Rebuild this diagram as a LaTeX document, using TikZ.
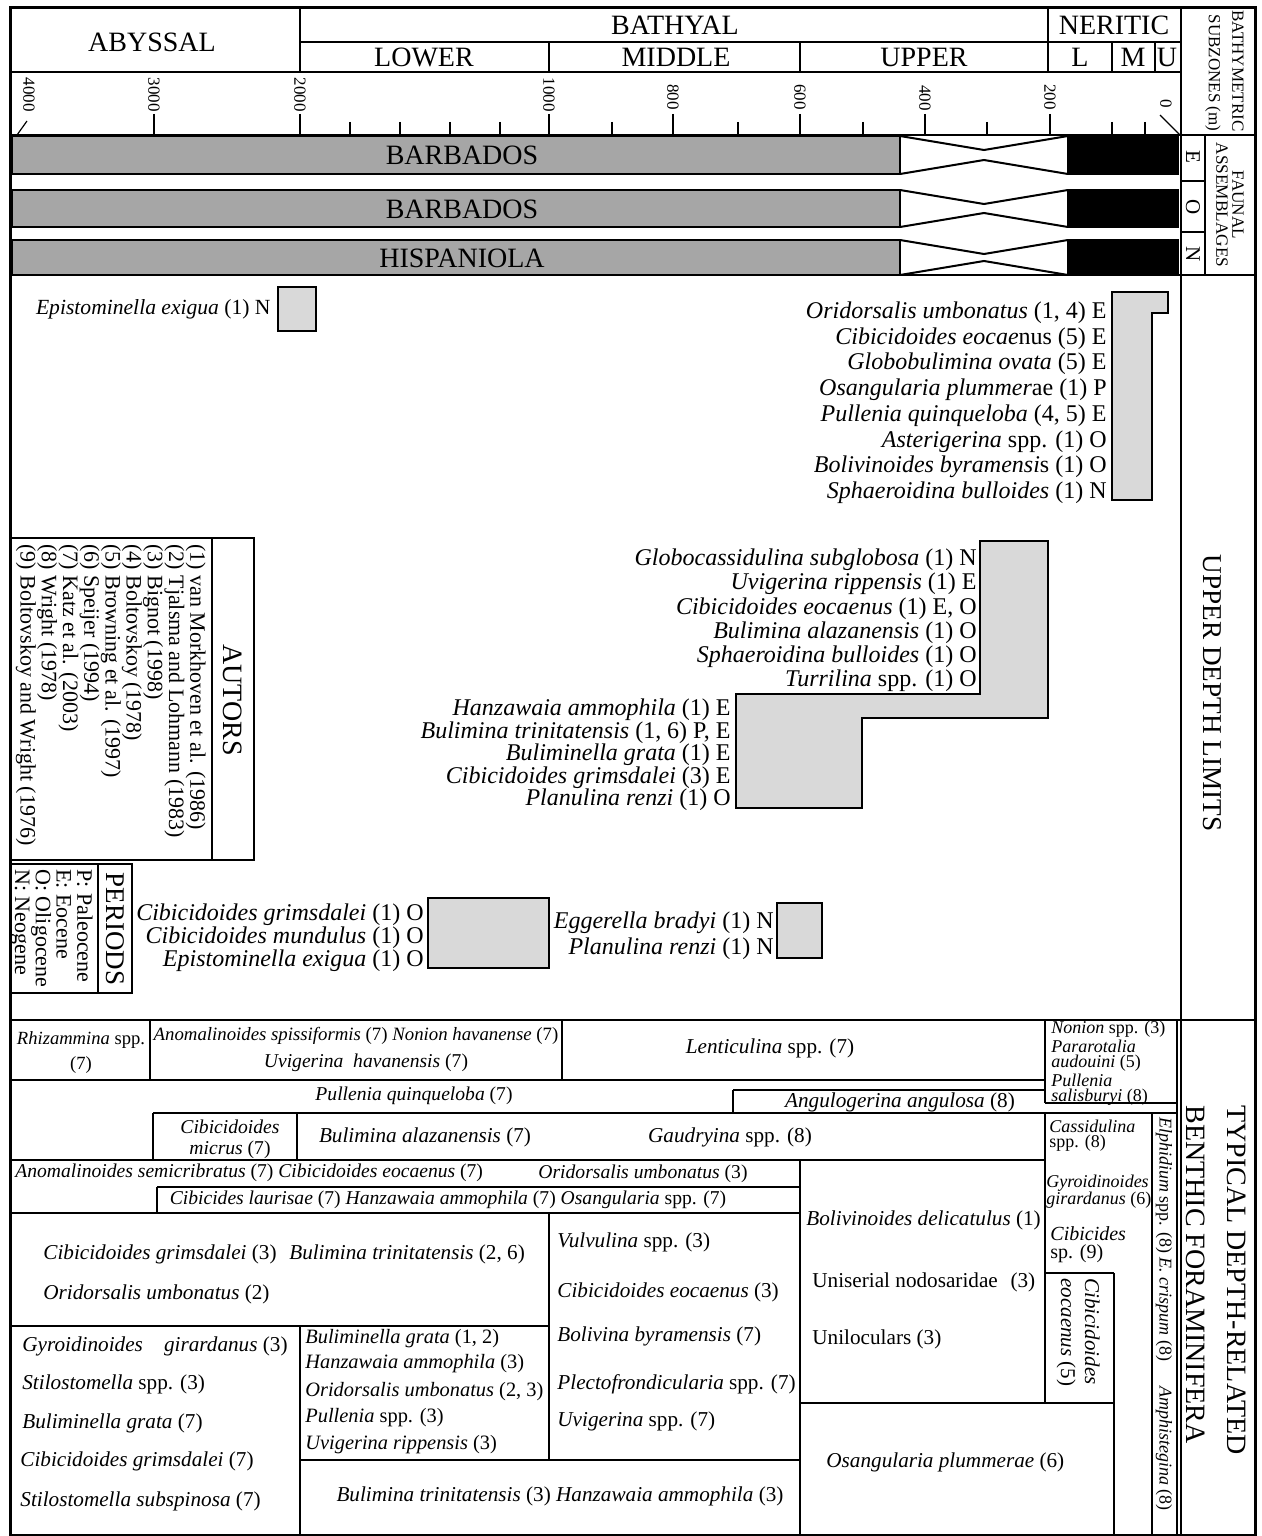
\documentclass[tikz,border=0pt]{standalone}
\usepackage{fontspec}
\setmainfont{Liberation Serif}
\tikzset{
  hd/.style={font=\fontsize{14}{14}\selectfont, inner sep=0pt},
  lbl/.style={font=\fontsize{12}{12.85}\selectfont, inner sep=0pt},
  tbs/.style={font=\fontsize{9.8}{11}\selectfont, inner sep=0pt},
  tb/.style={font=\fontsize{10.6}{12}\selectfont, inner sep=0pt},
  tbn/.style={font=\fontsize{10.2}{12}\selectfont, inner sep=0pt},
  scalelbl/.style={font=\fontsize{8.5}{8.5}\selectfont, inner sep=0pt, rotate=-90, anchor=east},
  rot/.style={rotate=-90, inner sep=0pt},
  limbox/.style={draw, line width=1pt, fill=black!15},
  barbox/.style={draw, line width=1pt, fill=black!35},
  gridline/.style={line width=0.6pt},
}
\begin{document}
\begin{tikzpicture}[x=0.5pt, y=-0.5pt]
\useasboundingbox (0,0) rectangle (1262,1536);

% Outer frame and right column
\draw[line width=1.5pt] (10,8) rectangle (1255,1535);
\draw[line width=1pt] (1181,8) -- (1181,1535);

% Header: bathymetric zones
\draw[gridline] (300,8) -- (300,72) (1048,8) -- (1048,72)
  (300,42) -- (1181,42) (10,72) -- (1181,72)
  (549,42) -- (549,72) (800,42) -- (800,72)
  (1112,42) -- (1112,72) (1155,42) -- (1155,72);
\node[hd] (abyssal) at (152,42) {ABYSSAL};
\node[hd] (bathyal) at (675,25) {BATHYAL};
\node[hd] (neritic) at (1114,25) {NERITIC};
\node[hd] (lower) at (424,57) {LOWER};
\node[hd] (middle) at (676,57) {MIDDLE};
\node[hd] (upper) at (924,57) {UPPER};
\node[hd] (nerl) at (1080,57) {L};
\node[hd] (nerm) at (1133,57) {M};
\node[hd] (neru) at (1167,57) {U};

% Depth scale (m)
\draw[gridline] (10,135) -- (1255,135);
\draw[gridline] (154,114) -- (154,135) (300,114) -- (300,135) (549,114) -- (549,135)
  (673,114) -- (673,135) (800,114) -- (800,135) (925,114) -- (925,135) (1050,114) -- (1050,135);
\draw[gridline] (350,122) -- (350,135) (400,122) -- (400,135) (450,122) -- (450,135)
  (500,122) -- (500,135) (612,122) -- (612,135) (738,122) -- (738,135)
  (863,122) -- (863,135) (987,122) -- (987,135) (1112,122) -- (1112,135) (1145,122) -- (1145,135);
\draw[gridline] (17,135) -- (27,121) (1160,115) -- (1180,135);
\node[scalelbl] (d4000) at (29,112) {4000};
\node[scalelbl] (d3000) at (154,112) {3000};
\node[scalelbl] (d2000) at (300,112) {2000};
\node[scalelbl] (d1000) at (549,112) {1000};
\node[scalelbl] (d800) at (673,110) {800};
\node[scalelbl] (d600) at (800,110) {600};
\node[scalelbl] (d400) at (925,111) {400};
\node[scalelbl] (d200) at (1050,110) {200};
\node[scalelbl] (d0) at (1166,108) {0};

% Faunal assemblage bars
\draw[barbox] (12,136) rectangle (900,174);
\draw[barbox] (12,190) rectangle (900,227);
\draw[barbox] (12,240) rectangle (900,275);
\draw[line width=1pt, fill=black] (1068,136) rectangle (1178,174);
\draw[line width=1pt, fill=black] (1068,190) rectangle (1178,227);
\draw[line width=1pt, fill=black] (1068,240) rectangle (1178,275);
\draw[line width=1pt] (900,136) -- (984,150) -- (1068,136) (900,174) -- (984,160) -- (1068,174);
\draw[line width=1pt] (900,190) -- (984,204) -- (1068,190) (900,227) -- (984,213) -- (1068,227);
\draw[line width=1pt] (900,240) -- (984,254) -- (1068,240) (900,275) -- (984,261) -- (1068,275);
\node[hd] (barE) at (462,155) {BARBADOS};
\node[hd] (barO) at (462,209) {BARBADOS};
\node[hd] (barN) at (462,258) {HISPANIOLA};
\draw[gridline] (10,275) -- (1255,275);

% Right column labels
\draw[gridline] (1205,135) -- (1205,275) (1181,181) -- (1205,181) (1181,232) -- (1205,232);
\node[rot, font=\fontsize{8.5}{8.5}\selectfont] (bathym) at (1238,71) {BATHYMETRIC};
\node[rot, font=\fontsize{8.5}{8.5}\selectfont] (subz) at (1213,73) {SUBZONES (m)};
\node[rot, align=center, font=\fontsize{8.6}{8}\selectfont] (faunal) at (1230,205) {FAUNAL\\ASSEMBLAGES};
\node[rot, font=\fontsize{10.5}{10.5}\selectfont] (asE) at (1193,157) {E};
\node[rot, font=\fontsize{10.5}{10.5}\selectfont] (asO) at (1193,207) {O};
\node[rot, font=\fontsize{10.5}{10.5}\selectfont] (asN) at (1193,254) {N};
\node[rot, font=\fontsize{13.6}{13.6}\selectfont] (udl) at (1212,693) {UPPER DEPTH LIMITS};
\node[rot, anchor=west, font=\fontsize{14}{14}\selectfont] (typ1) at (1237,1105) {TYPICAL DEPTH-RELATED};
\node[rot, anchor=west, font=\fontsize{14}{14}\selectfont] (typ2) at (1196,1105) {BENTHIC FORAMINIFERA};

% Upper depth limits
\draw[limbox] (278,287) rectangle (316,331);
\node[lbl, anchor=east, font=\fontsize{10.8}{11}\selectfont] (epex) at (271,309) {\textit{Epistominella exigua} (1) N};

\draw[limbox] (1112,292) -- (1168,292) -- (1168,313) -- (1152,313) -- (1152,500) -- (1112,500) -- cycle;
\node[lbl, anchor=north east, align=right] (shelf) at (1107,301.5) {\textit{Oridorsalis umbonatus} (1, 4) E\\
  \textit{Cibicidoides eocae}nus (5) E\\ \textit{Globobulimina ovata} (5) E\\
  \textit{Osangularia plummer}ae (1) P\\ \textit{Pullenia quinqueloba} (4, 5) E\\
  \textit{Asterigerina} spp. (1) O\\ \textit{Bolivinoides byramensi}s (1) O\\
  \textit{Sphaeroidina bulloides} (1) N};

\draw[limbox] (980,541) -- (1048,541) -- (1048,718) -- (862,718) -- (862,808) -- (736,808) -- (736,694) -- (980,694) -- cycle;
\node[lbl, anchor=north east, align=right, font=\fontsize{12}{12.1}\selectfont] (upbath) at (977,548.6) {\textit{Globocassidulina subglobosa} (1) N\\
  \textit{Uvigerina rippensis} (1) E\\ \textit{Cibicidoides eocaenus} (1) E, O\\
  \textit{Bulimina alazanensis} (1) O\\ \textit{Sphaeroidina bulloides} (1) O\\
  \textit{Turrilina} spp. (1) O};
\node[lbl, anchor=north east, align=right, font=\fontsize{12}{11.25}\selectfont] (midbath) at (731,698.6) {\textit{Hanzawaia ammophila} (1) E\\
  \textit{Bulimina trinitatensis} (1, 6) P, E\\ \textit{Buliminella grata} (1) E\\
  \textit{Cibicidoides grimsdalei} (3) E\\ \textit{Planulina renzi} (1) O};

\draw[limbox] (428,898) rectangle (549,968);
\node[lbl, anchor=north east, align=right, font=\fontsize{12}{11.5}\selectfont] (lowbath) at (424,903.6) {\textit{Cibicidoides grimsdalei} (1) O\\
  \textit{Cibicidoides mundulus} (1) O\\ \textit{Epistominella exigua} (1) O};
\draw[limbox] (777,903) rectangle (822,958);
\node[lbl, anchor=north east, align=right, font=\fontsize{12}{13}\selectfont] (eggr) at (774,911.6) {\textit{Eggerella bradyi} (1) N\\
  \textit{Planulina renzi} (1) N};

% Autors and periods
\draw[line width=1.2pt] (10,538) rectangle (254,860);
\draw[line width=1.2pt] (212,538) -- (212,860);
\node[rot, font=\fontsize{14}{14}\selectfont] (autors) at (233,700) {AUTORS};
\node[rot, anchor=north west, align=left, font=\fontsize{11}{10.6}\selectfont] (autlist) at (206,544) {(1) van Morkhoven et al. (1986)\\
  (2) Tjalsma and Lohmann (1983)\\ (3) Bignot (1998)\\ (4) Boltovskoy (1978)\\
  (5) Browning et al. (1997)\\ (6) Speijer (1994)\\ (7) Katz et al. (2003)\\
  (8) Wright (1978)\\ (9) Boltovskoy and Wright (1976)};
\draw[line width=1.2pt] (10,864) rectangle (132,993);
\draw[line width=1.2pt] (98,864) -- (98,993);
\node[rot, font=\fontsize{13.5}{13.5}\selectfont] (periods) at (115,929) {PERIODS};
\node[rot, anchor=north west, align=left, font=\fontsize{11}{10.35}\selectfont] (perlist) at (93,869) {P: Paleocene\\
  E: Eocene\\ O: Oligocene\\ N: Neogene};

% Typical depth-related benthic foraminifera (table)
\draw[gridline] (10,1020) -- (1255,1020);
\draw[gridline] (150,1020) -- (150,1080) (562,1020) -- (562,1080)
  (1045,1020) -- (1045,1103) (1045,1103) -- (1177,1103)
  (10,1080) -- (1045,1080) (733,1090) -- (1045,1090) (733,1090) -- (733,1113)
  (153,1113) -- (1177,1113) (153,1113) -- (153,1160) (297,1113) -- (297,1160)
  (1045,1113) -- (1045,1403)
  (10,1160) -- (1045,1160) (157,1187) -- (800,1187) (157,1187) -- (157,1213)
  (10,1213) -- (800,1213) (800,1160) -- (800,1535) (549,1213) -- (549,1460)
  (10,1326) -- (549,1326) (300,1326) -- (300,1535) (300,1460) -- (800,1460)
  (800,1403) -- (1114,1403) (1045,1273) -- (1114,1273) (1114,1273) -- (1114,1535)
  (1152,1113) -- (1152,1535) (1177,1020) -- (1177,1535);

\node[tbs, align=center, font=\fontsize{9.3}{12.5}\selectfont] (rhiz) at (81,1053) {\textit{Rhizammina} spp.\\(7)};
\node[tbs, font=\fontsize{9.4}{11}\selectfont] (anspi) at (356,1036) {\textit{Anomalinoides spissiformis} (7) \textit{Nonion havanense} (7)};
\node[tbs] (uvhav) at (366,1063) {\textit{Uvigerina\hspace{0.5em}havanensis} (7)};
\node[tb] (lent) at (770,1048) {\textit{Lenticulina} spp. (7)};
\node[tbs, anchor=north west, align=left, font=\fontsize{9}{7.8}\selectfont] (nonion) at (1051,1021) {\textit{Nonion} spp. (3)\\
  \textit{Pararotalia}\\ \textit{audouini} (5)\\ \textit{Pullenia}\\ \textit{salisburyi} (8)};
\node[tbs] (pquin) at (414,1096) {\textit{Pullenia quinqueloba} (7)};
\node[tb] (angul) at (900,1102) {\textit{Angulogerina angulosa} (8)};
\node[tbs, align=center, font=\fontsize{9.8}{10.5}\selectfont] (micrus) at (230,1139.5) {\textit{Cibicidoides}\\\textit{micrus} (7)};
\node[tb] (balaz) at (425,1137) {\textit{Bulimina alazanensis} (7)};
\node[tb] (gaud) at (730,1137) {\textit{Gaudryina} spp. (8)};
\node[tbs, anchor=north west, align=left, font=\fontsize{9}{7.5}\selectfont] (cass) at (1049,1120) {\textit{Cassidulina}\\spp. (8)};
\node[tbs, anchor=north west, align=left, font=\fontsize{9}{8.5}\selectfont] (gyrgi) at (1046,1175) {\textit{Gyroidinoides}\\\textit{girardanus} (6)};
\node[tbs, anchor=north west, align=left, font=\fontsize{10}{9}\selectfont] (cibsp) at (1050,1226) {\textit{Cibicides}\\sp. (9)};
\node[tbs, anchor=west] (anomsem) at (15,1173) {\textit{Anomalinoides semicribratus} (7) \textit{Cibicidoides eocaenus} (7)};
\node[tbs] (orid3) at (643,1174) {\textit{Oridorsalis umbonatus} (3)};
\node[tbs] (claur) at (448,1200) {\textit{Cibicides laurisae} (7) \textit{Hanzawaia ammophila} (7) \textit{Osangularia} spp. (7)};

\node[tb, anchor=west] (cgrim) at (43,1254) {\textit{Cibicidoides grimsdalei} (3)\hspace{0.6em}\textit{Bulimina trinitatensis} (2, 6)};
\node[tb, anchor=west] (orid2) at (43,1294) {\textit{Oridorsalis umbonatus} (2)};
\node[tb, anchor=west] (vulv) at (557,1242) {\textit{Vulvulina} spp. (3)};
\node[tb, anchor=west] (ceoc3) at (557,1292) {\textit{Cibicidoides eocaenus} (3)};
\node[tb, anchor=west] (bbyr) at (557,1336) {\textit{Bolivina byramensis} (7)};
\node[tb, anchor=west] (plect) at (557,1384) {\textit{Plectofrondicularia} spp. (7)};
\node[tb, anchor=west] (uvspp) at (557,1421) {\textit{Uvigerina} spp. (7)};
\node[tb, anchor=west] (gyr3) at (22,1346) {\textit{Gyroidinoides\hspace{1em}girardanus} (3)};
\node[tb, anchor=west] (stil) at (22,1384) {\textit{Stilostomella} spp. (3)};
\node[tb, anchor=west] (bgr7) at (22,1423) {\textit{Buliminella grata} (7)};
\node[tb, anchor=west] (cgr7) at (20,1461) {\textit{Cibicidoides grimsdalei} (7)};
\node[tb, anchor=west] (ssub) at (20,1501) {\textit{Stilostomella subspinosa} (7)};
\node[tbn, anchor=west] (bgr12) at (305,1339) {\textit{Buliminella grata} (1, 2)};
\node[tbn, anchor=west] (hamm3) at (305,1364) {\textit{Hanzawaia ammophila} (3)};
\node[tbn, anchor=west] (orid23) at (305,1392) {\textit{Oridorsalis umbonatus} (2, 3)};
\node[tbn, anchor=west] (pull3) at (305,1418) {\textit{Pullenia} spp. (3)};
\node[tbn, anchor=west] (uvrip) at (305,1445) {\textit{Uvigerina rippensis} (3)};
\node[tb] (btrin) at (560,1496) {\textit{Bulimina trinitatensis} (3) \textit{Hanzawaia ammophila} (3)};
\node[tb, anchor=west] (bdel) at (806,1220) {\textit{Bolivinoides delicatulus} (1)};
\node[tb, anchor=west] (unis) at (812,1282) {Uniserial nodosaridae\hspace{0.6em}(3)};
\node[tb, anchor=west] (uniloc) at (812,1339) {Uniloculars (3)};
\node[tb, anchor=west] (oplum) at (826,1462) {\textit{Osangularia plummerae} (6)};
\node[rot, anchor=north west, align=left, font=\fontsize{10.5}{12}\selectfont] (ceoc5) at (1100,1278) {\textit{Cibicidoides}\\\textit{eocaenus} (5)};
\node[rot, anchor=west, font=\fontsize{9}{9}\selectfont] (elph) at (1164,1117) {\textit{Elphidium} spp. (8) \textit{E. crispum} (8)};
\node[rot, anchor=west, font=\fontsize{9}{9}\selectfont] (amph) at (1164,1386) {\textit{Amphistegina} (8)};

\end{tikzpicture}
\end{document}
